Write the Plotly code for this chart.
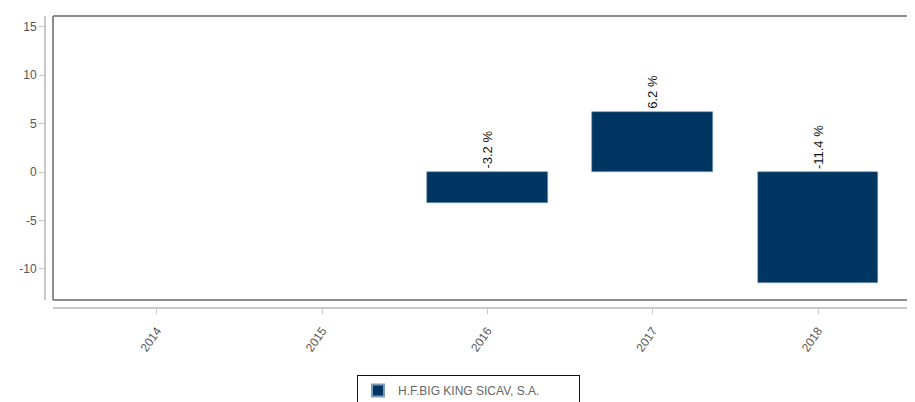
import plotly.graph_objects as go

years = ["2014", "2015", "2016", "2017", "2018"]
returns = [None, None, -3.2, 6.2, -11.4]
series_name = "H.F.BIG KING SICAV, S.A."
y_ticks = [-10, -5, 0, 5, 10, 15]
y_tick_text = ["-10", "-5", "0", "5", "10", "15"]

# the page has an 8px body margin, so design coordinates are shifted by 8px
OFF = 8
W, H = 915, 402
ml, mr, mt = 45 - OFF, 0, 16 - OFF
axis_y = 308 - OFF
mb = H - axis_y
pw = W - ml - mr
ph = H - mt - mb
x_dom0 = (53 - 45) / pw
y_dom0 = (308 - 300) / ph

bar_color = "#023662"
FONT = "Liberation Sans, Arial, sans-serif"

fig = go.Figure()
fig.add_trace(go.Bar(
    x=years, y=returns, name=series_name, width=0.73,
    marker=dict(color=bar_color, line=dict(color="#7f9cbb", width=0.6)),
    showlegend=True,
))

for i, v in enumerate(returns):
    if v is None:
        continue
    fig.add_annotation(
        x=i, y=max(v, 0), xref="x", yref="y",
        text=f"{v} %", textangle=-90, showarrow=False,
        yanchor="bottom", xanchor="center", yshift=1,
        font=dict(family=FONT, size=13, color="#111111"),
    )

# plot frame (left, top, bottom); right side is cut off
frame = dict(color="#8c8c8c", width=2)
fig.add_shape(type="line", xref="x domain", yref="y domain", x0=0, x1=0, y0=0, y1=1, line=frame)
fig.add_shape(type="line", xref="x domain", yref="y domain", x0=0, x1=1, y0=1, y1=1, line=frame)
fig.add_shape(type="line", xref="x domain", yref="y domain", x0=0, x1=1, y0=0, y1=0, line=frame)

fig.update_layout(
    width=W, height=H,
    margin=dict(l=ml, r=mr, t=mt, b=mb, pad=0, autoexpand=False),
    plot_bgcolor="white", paper_bgcolor="white",
    font=dict(family=FONT, size=11, color="#555555"),
    bargap=0,
    xaxis=dict(
        domain=[x_dom0, 1], anchor="free", position=0, automargin=False,
        type="category", range=[-0.629, 4.635],
        showline=True, linecolor="#c8c8c8", linewidth=2,
        ticks="outside", ticklen=5, tickcolor="#c8c8c8", tickwidth=1,
        tickangle=-55, tickfont=dict(size=12, color="#555555"),
        ticklabelstandoff=5,
        showgrid=False, zeroline=False,
    ),
    yaxis=dict(
        domain=[y_dom0, 1], anchor="free", position=0, automargin=False,
        range=[-13.2, 16.1], tickvals=y_ticks, ticktext=y_tick_text,
        showline=True, linecolor="#c8c8c8", linewidth=2,
        ticks="outside", ticklen=5, tickcolor="#c8c8c8", tickwidth=1,
        tickfont=dict(size=12, color="#555555"),
        showgrid=False, zeroline=False,
    ),
    legend=dict(
        orientation="h", x=(357 - OFF - ml) / pw, xanchor="left",
        y=(axis_y - (375 - OFF)) / ph, yanchor="top",
        bordercolor="#111111", borderwidth=1,
        font=dict(size=12, color="#666666"),
        itemsizing="constant", entrywidth=176, entrywidthmode="pixels",
    ),
)

fig.write_html("out.html")
